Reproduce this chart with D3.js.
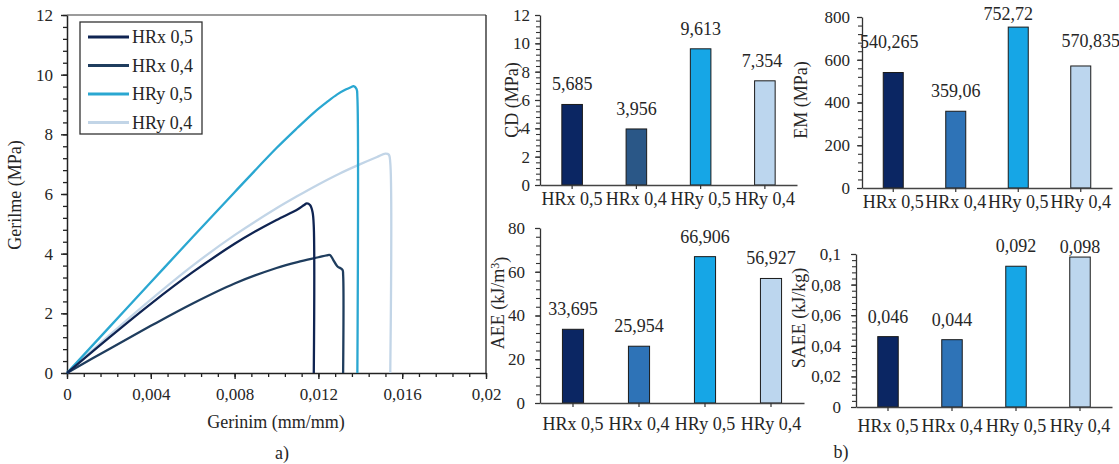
<!DOCTYPE html>
<html>
<head>
<meta charset="utf-8">
<script src="https://cdn.jsdelivr.net/npm/d3@7"></script>
<style>
  body { margin: 0; background: #fff; }
  svg { display: block; }
  text { font-family: "Liberation Serif", "Times New Roman", serif; fill: #262626; }
</style>
</head>
<body>
<svg id="chart" width="1119" height="464"></svg>
<script>
// ---- stress–strain curves (strain mm/mm, stress MPa) ----
const specimens = ["HRx 0,5", "HRx 0,4", "HRy 0,5", "HRy 0,4"];

const hrx05Curve = [
  [0, 0], [0.002, 1.18], [0.004, 2.32], [0.006, 3.38], [0.008, 4.33], [0.009, 4.75],
  [0.010, 5.13], [0.011, 5.48], [0.0113, 5.62], [0.01145, 5.685], [0.0116, 5.63],
  [0.01172, 5.40], [0.01178, 4.90], [0.01178, 0]
];
const hrx04Curve = [
  [0, 0], [0.002, 0.80], [0.004, 1.58], [0.006, 2.33], [0.008, 3.00], [0.010, 3.52],
  [0.011, 3.72], [0.012, 3.88], [0.0124, 3.945], [0.01255, 3.956], [0.0127, 3.80],
  [0.0129, 3.58], [0.01315, 3.46], [0.01318, 3.30], [0.01318, 0]
];
const hry05Curve = [
  [0, 0], [0.002, 1.52], [0.004, 3.04], [0.006, 4.56], [0.008, 6.06], [0.010, 7.54],
  [0.011, 8.22], [0.0118, 8.74], [0.0124, 9.08], [0.0129, 9.34], [0.0133, 9.50],
  [0.01355, 9.58], [0.01368, 9.613], [0.01382, 9.52], [0.01386, 9.25], [0.01386, 0]
];
const hry04Curve = [
  [0, 0], [0.002, 1.25], [0.004, 2.46], [0.006, 3.60], [0.008, 4.62], [0.010, 5.52],
  [0.011, 5.93], [0.012, 6.32], [0.013, 6.68], [0.014, 7.00], [0.0148, 7.24],
  [0.0152, 7.354], [0.01536, 7.32], [0.01543, 7.05], [0.01543, 0]
];

const strainTicks = [0, 0.004, 0.008, 0.012, 0.016, 0.02];
const strainTickLabels = ["0", "0,004", "0,008", "0,012", "0,016", "0,02"];
const stressTicks = [0, 2, 4, 6, 8, 10, 12];
const stressTickLabels = ["0", "2", "4", "6", "8", "10", "12"];

// ---- bar-chart properties per specimen ----
const barCategories = ["HRx 0,5", "HRx 0,4", "HRy 0,5", "HRy 0,4"];
const cdValues = [5.685, 3.956, 9.613, 7.354];
const emValues = [540.265, 359.06, 752.72, 570.835];
const aeeValues = [33.695, 25.954, 66.906, 56.927];
const saeeValues = [0.046, 0.044, 0.092, 0.098];

const cdTicks = [0, 2, 4, 6, 8, 10, 12];
const cdTickLabels = ["0", "2", "4", "6", "8", "10", "12"];
const emTicks = [0, 200, 400, 600, 800];
const emTickLabels = ["0", "200", "400", "600", "800"];
const aeeTicks = [0, 20, 40, 60, 80];
const aeeTickLabels = ["0", "20", "40", "60", "80"];
const saeeTicks = [0, 0.02, 0.04, 0.06, 0.08, 0.1];
const saeeTickLabels = ["0", "0,02", "0,04", "0,06", "0,08", "0,1"];

// decimal comma formatting for value labels
const trLocale = d3.formatLocale({ decimal: ",", thousands: ".", grouping: [3], currency: ["", ""] });
const fmtValue = trLocale.format("~g");

const svg = d3.select("#chart");

// ================= (a) stress–strain plot =================
const lineColors = { "HRx 0,5": "#0f2452", "HRx 0,4": "#1f3d5e", "HRy 0,5": "#2aa7d1", "HRy 0,4": "#c2d5e7" };
const curves = { "HRx 0,5": hrx05Curve, "HRx 0,4": hrx04Curve, "HRy 0,5": hry05Curve, "HRy 0,4": hry04Curve };

const xS = d3.scaleLinear().domain([0, 0.02]).range([67, 486]);
const yS = d3.scaleLinear().domain([0, 12]).range([373, 15]);

const pa = svg.append("g");

// frame (top and right)
pa.append("line").attr("x1", xS(0)).attr("x2", xS(0.02)).attr("y1", yS(12)).attr("y2", yS(12))
  .attr("stroke", "#7a7a7a").attr("stroke-width", 1.4);
pa.append("line").attr("x1", xS(0.02)).attr("x2", xS(0.02)).attr("y1", yS(12)).attr("y2", yS(0))
  .attr("stroke", "#333").attr("stroke-width", 1.4);

// minor ticks
pa.append("g").attr("transform", `translate(0,${yS(0)})`)
  .call(d3.axisBottom(xS).tickValues(d3.range(0, 0.02 + 1e-9, 0.0008)).tickSize(4).tickFormat(""))
  .call(g => g.select(".domain").remove())
  .call(g => g.selectAll("line").attr("stroke", "#222").attr("stroke-width", 1.3));
pa.append("g").attr("transform", `translate(${xS(0)},0)`)
  .call(d3.axisLeft(yS).tickValues(d3.range(0, 12 + 1e-9, 0.4)).tickSize(4).tickFormat(""))
  .call(g => g.select(".domain").remove())
  .call(g => g.selectAll("line").attr("stroke", "#222").attr("stroke-width", 1.3));

// major axes
const xAx = pa.append("g").attr("transform", `translate(0,${yS(0)})`)
  .call(d3.axisBottom(xS).tickValues(strainTicks).tickSize(6).tickPadding(9)
    .tickFormat((d, i) => strainTickLabels[i]).tickSizeOuter(0));
const yAx = pa.append("g").attr("transform", `translate(${xS(0)},0)`)
  .call(d3.axisLeft(yS).tickValues(stressTicks).tickSize(6).tickPadding(8)
    .tickFormat((d, i) => stressTickLabels[i]).tickSizeOuter(0));
[xAx, yAx].forEach(g => {
  g.select(".domain").attr("stroke", "#222").attr("stroke-width", 1.5);
  g.selectAll(".tick line").attr("stroke", "#222").attr("stroke-width", 1.4);
  g.selectAll(".tick text").attr("font-size", 17).attr("fill", "#2a2a2a")
    .style("font-family", '"Liberation Serif", serif');
});

// curves
const curveGen = d3.line().x(d => xS(d[0])).y(d => yS(d[1])).curve(d3.curveCatmullRom.alpha(0.5));
["HRy 0,4", "HRy 0,5", "HRx 0,4", "HRx 0,5"].forEach(name => {
  pa.append("path").datum(curves[name]).attr("d", curveGen)
    .attr("fill", "none").attr("stroke", lineColors[name]).attr("stroke-width", 2.3)
    .attr("stroke-linejoin", "round");
});

// legend
const leg = pa.append("g");
leg.append("rect").attr("x", 80).attr("y", 22).attr("width", 122).attr("height", 112)
  .attr("fill", "#fff").attr("stroke", "#333").attr("stroke-width", 1.3);
specimens.forEach((name, i) => {
  const ly = 37 + i * 28.5;
  leg.append("line").attr("x1", 88).attr("x2", 129).attr("y1", ly).attr("y2", ly)
    .attr("stroke", lineColors[name]).attr("stroke-width", 3);
  leg.append("text").attr("x", 132).attr("y", ly).attr("dy", "0.35em")
    .attr("font-size", 18).text(name);
});

// axis titles
pa.append("text").attr("x", 276).attr("y", 428).attr("text-anchor", "middle")
  .attr("font-size", 18).text("Gerinim (mm/mm)");
pa.append("text").attr("transform", "translate(15,195) rotate(-90)").attr("text-anchor", "middle")
  .attr("dy", "0.35em").attr("font-size", 18).text("Gerilme (MPa)");
pa.append("text").attr("x", 282).attr("y", 459).attr("text-anchor", "middle")
  .attr("font-size", 18).text("a)");

// ================= (b) bar charts =================
const barColors = ["#0b2663", "#2e73b7", "#16a6e6", "#bcd6ee"];

const panels = [
  { values: cdValues, ticks: cdTicks, tickLabels: cdTickLabels, max: 12, minor: 0.4,
    xr: [540, 797], yr: [185, 15], pad: 5, catDy: 20, title: "ÇD (MPa)", tx: 512, ty: 100,
    colors: ["#0b2663", "#2a5787", "#16a6e6", "#bcd6ee"], shift: [[0, 0], [0, 0], [0, 0], [-3, 0]] },
  { values: emValues, ticks: emTicks, tickLabels: emTickLabels, max: 800, minor: 40,
    xr: [862, 1112], yr: [188, 17], pad: 7, catDy: 20, title: "EM (MPa)", tx: 801, ty: 100,
    colors: barColors, shift: [[-4, -11], [0, 0], [-10, 7], [10, -5]] },
  { values: aeeValues, ticks: aeeTicks, tickLabels: aeeTickLabels, max: 80, minor: 4,
    xr: [540, 804], yr: [403, 228], pad: 10, catDy: 27, title: "AEE (kJ/m", sup: "3", tx: 498, ty: 303,
    colors: barColors, shift: [[0, 0], [0, 0], [0, 0], [0, 0]] },
  { values: saeeValues, ticks: saeeTicks, tickLabels: saeeTickLabels, max: 0.1, minor: 0.004,
    xr: [856, 1112], yr: [407, 254], pad: 10, catDy: 25, title: "SAEE (kJ/kg)", tx: 799, ty: 318,
    colors: barColors, shift: [[0, 0], [0, 0], [0, 0], [0, 10]] }
];

panels.forEach(p => {
  const g = svg.append("g");
  const x = d3.scaleBand().domain(barCategories).range(p.xr).padding(0);
  const y = d3.scaleLinear().domain([0, p.max]).range(p.yr);
  const bw = x.bandwidth() * 0.32;

  // minor y ticks
  g.append("g").attr("transform", `translate(${p.xr[0]},0)`)
    .call(d3.axisLeft(y).tickValues(d3.range(0, p.max * 1.0001, p.minor)).tickSize(4).tickFormat(""))
    .call(a => a.select(".domain").remove())
    .call(a => a.selectAll("line").attr("stroke", "#333").attr("stroke-width", 1.1));

  // y axis
  const ya = g.append("g").attr("transform", `translate(${p.xr[0]},0)`)
    .call(d3.axisLeft(y).tickValues(p.ticks).tickSize(5).tickPadding(p.pad)
      .tickFormat((d, i) => p.tickLabels[i]).tickSizeOuter(0));
  ya.select(".domain").attr("stroke", "#333").attr("stroke-width", 1.3);
  ya.selectAll(".tick line").attr("stroke", "#333").attr("stroke-width", 1.2);
  ya.selectAll(".tick text").attr("font-size", 17).attr("fill", "#2a2a2a")
    .style("font-family", '"Liberation Serif", serif');

  // bars
  g.selectAll("rect.bar").data(p.values).join("rect").attr("class", "bar")
    .attr("x", (d, i) => x(barCategories[i]) + (x.bandwidth() - bw) / 2)
    .attr("y", d => y(d))
    .attr("width", bw)
    .attr("height", d => y(0) - y(d))
    .attr("fill", (d, i) => p.colors[i])
    .attr("stroke", "#1a1a1a").attr("stroke-width", 1);

  // x axis with ticks at category centres
  const xa = g.append("g").attr("transform", `translate(0,${y(0)})`)
    .call(d3.axisBottom(x).tickSize(4).tickSizeOuter(0).tickFormat(""));
  xa.select(".domain").attr("stroke", "#444").attr("stroke-width", 1.3);
  xa.selectAll(".tick line").attr("stroke", "#333").attr("stroke-width", 1.2);

  // category labels
  g.selectAll("text.cat").data(barCategories).join("text").attr("class", "cat")
    .attr("x", d => x(d) + x.bandwidth() / 2)
    .attr("y", y(0) + p.catDy)
    .attr("text-anchor", "middle").attr("font-size", 18).text(d => d);

  // value labels
  g.selectAll("text.val").data(p.values).join("text").attr("class", "val")
    .attr("x", (d, i) => x(barCategories[i]) + x.bandwidth() / 2 + p.shift[i][0])
    .attr("y", (d, i) => y(d) - 14 + p.shift[i][1])
    .attr("text-anchor", "middle").attr("font-size", 18).text(d => fmtValue(d));

  // y title
  const t = g.append("text").attr("transform", `translate(${p.tx},${p.ty}) rotate(-90)`)
    .attr("text-anchor", "middle").attr("dy", "0.35em").attr("font-size", 18).text(p.title);
  if (p.sup) {
    t.append("tspan").attr("dy", "-0.45em").attr("font-size", 12).text(p.sup);
    t.append("tspan").attr("dy", "0.45em").text(")");
  }
});

svg.append("text").attr("x", 841).attr("y", 458).attr("text-anchor", "middle")
  .attr("font-size", 18).text("b)");
</script>
</body>
</html>
